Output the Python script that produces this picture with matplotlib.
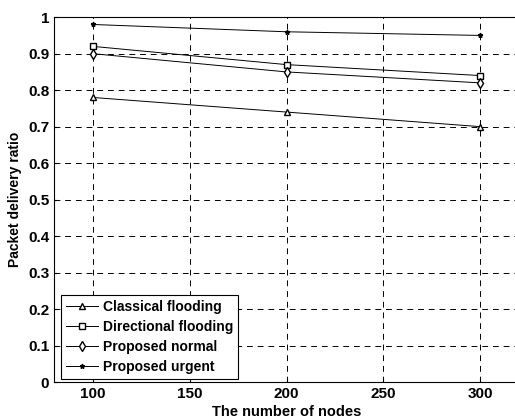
import matplotlib
matplotlib.use('Agg')
import matplotlib.pyplot as plt

nodes = [100, 200, 300]
classical = [0.78, 0.74, 0.70]
directional = [0.92, 0.87, 0.84]
normal = [0.90, 0.85, 0.82]
urgent = [0.98, 0.96, 0.95]

xticks = [100, 150, 200, 250, 300]
yticks = [0, 0.1, 0.2, 0.3, 0.4, 0.5, 0.6, 0.7, 0.8, 0.9, 1]
ylabels = ['0', '0.1', '0.2', '0.3', '0.4', '0.5', '0.6', '0.7', '0.8', '0.9', '1']

plt.rcParams['font.family'] = ['Liberation Sans', 'DejaVu Sans']
plt.rcParams['font.weight'] = 'bold'
plt.rcParams['axes.labelweight'] = 'bold'

fig = plt.figure(figsize=(5.15, 4.19), dpi=100)
ax = fig.add_axes([0.105, 0.088, 0.903, 0.871])

# curves
ax.plot(nodes, classical, 'k-', marker='^', mfc='white', ms=5, lw=0.7, label='Classical flooding')
ax.plot(nodes, directional, 'k-', marker='s', mfc='white', ms=5, lw=0.7, label='Directional flooding')
ax.plot(nodes, normal, 'k-', marker='d', mfc='white', ms=5, lw=0.7, label='Proposed normal')
ax.plot(nodes, urgent, 'k-', marker='*', ms=3.5, lw=0.7, label='Proposed urgent')

ax.set_xlim(80, 320)
ax.set_ylim(0, 1)
ax.set_xticks(xticks, [str(x) for x in xticks], fontweight='bold', fontsize=11)
ax.set_yticks(yticks, ylabels, fontweight='bold', fontsize=11)
ax.grid(True, color='black', linestyle=(0, (6, 5)), linewidth=0.7)
ax.tick_params(direction='in', length=3)

ax.set_xlabel('The number of nodes', fontsize=10.5, labelpad=3)
ax.set_ylabel('Packet delivery ratio', fontsize=10, labelpad=4)

leg = ax.legend(loc='lower left', bbox_to_anchor=(0.015, 0.008), borderaxespad=0,
                frameon=True, fancybox=False, framealpha=1,
                edgecolor='black', handlelength=2.3, borderpad=0.35,
                labelspacing=0.45, handletextpad=0.35, prop={'weight': 'bold', 'size': 10})
leg.get_frame().set_linewidth(0.8)

plt.savefig('out.png', dpi=100)
